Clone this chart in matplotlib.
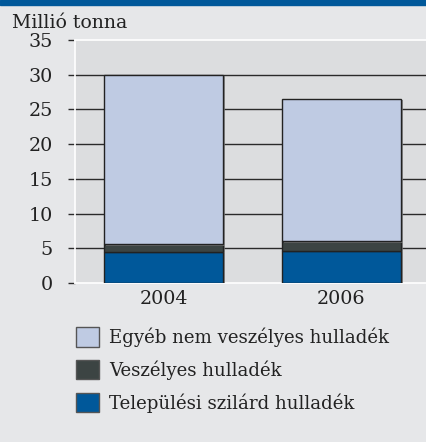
import matplotlib.pyplot as plt
import matplotlib.patches as mpatches
import matplotlib.patheffects as pe

years = ['2004', '2006']
telepulesi = [4.45, 4.6]
veszelyes = [1.1, 1.4]
egyeb = [24.45, 20.5]

labels = ['Egyéb nem veszélyes hulladék', 'Veszélyes hulladék', 'Települési szilárd hulladék']
colors = ['#bfcbe3', '#3c4443', '#00589a']

plt.rcParams['font.family'] = ['DejaVu Serif']

fig = plt.figure(figsize=(4.26, 4.42), dpi=100, facecolor='#e6e7e9')

# blue band on top
fig.patches.append(mpatches.Rectangle((0, 1 - 5 / 442), 1, 5 / 442, transform=fig.transFigure,
                                      color='#00589a', zorder=0))

ax = fig.add_axes([75 / 426, 1 - 283 / 442, 1 - 75 / 426, 243 / 442])
ax.set_facecolor('#dcdddf')

x = [0, 1]
shadow = [pe.SimplePatchShadow(offset=(1.5, -1), shadow_rgbFace='#777777', alpha=0.8), pe.Normal()]
bot2 = [a + b for a, b in zip(telepulesi, veszelyes)]
ax.bar(x, telepulesi, width=0.668, color=colors[2], edgecolor='#222222', linewidth=1,
       zorder=3, path_effects=shadow)
ax.bar(x, veszelyes, bottom=telepulesi, width=0.668, color=colors[1], edgecolor='#222222',
       linewidth=1, zorder=3, path_effects=shadow)
ax.bar(x, egyeb, bottom=bot2, width=0.668, color=colors[0], edgecolor='#222222',
       linewidth=1, zorder=3, path_effects=shadow)

ax.set_xlim(-0.497, 1.475)
ax.set_ylim(0, 35)
ax.set_yticks(range(0, 36, 5))
for v in range(5, 35, 5):
    ax.axhline(v, color='#2a2a2a', linewidth=1, zorder=1)

ax.spines['right'].set_visible(False)
for s in ['left', 'bottom', 'top']:
    ax.spines[s].set_color('white')
    ax.spines[s].set_linewidth(1.2)

ax.set_xticks(x)
ax.set_xticklabels(years)
ax.tick_params(axis='x', length=0, pad=5, labelsize=13.8, labelcolor='#222222')
ax.tick_params(axis='y', length=5, width=1, color='#2a2a2a', pad=11, labelsize=13.8,
               labelcolor='#222222')

fig.text(12 / 426, 1 - 28 / 442, 'Millió tonna', fontsize=13.6, color='#222222', va='baseline')

handles = [mpatches.Patch(facecolor=c, edgecolor='#555555', linewidth=1) for c in colors]
fig.legend(handles, labels, loc='upper left', bbox_to_anchor=(69 / 426, 1 - 320 / 442),
           frameon=False, fontsize=13.1, handlelength=1.25, handleheight=1.25,
           handletextpad=0.55, labelspacing=0.72, borderaxespad=0, labelcolor='#222222')

fig.savefig('out.png', dpi=100, facecolor=fig.get_facecolor())
